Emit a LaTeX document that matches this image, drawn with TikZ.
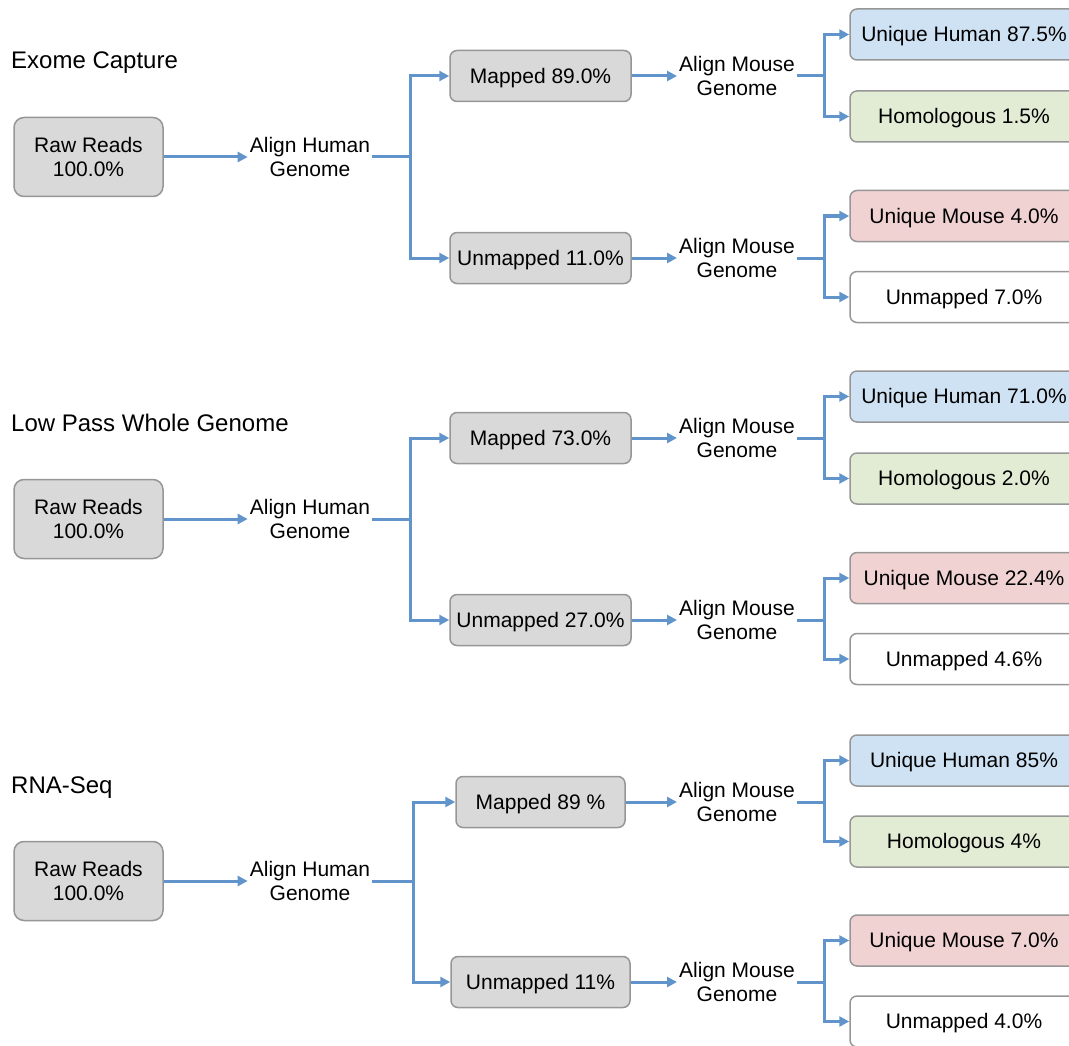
\documentclass[tikz,border=0pt]{standalone}
\usepackage{fontspec}
\setmainfont{Liberation Sans}
\usetikzlibrary{arrows.meta}
\definecolor{arrowblue}{RGB}{98,148,204}
\definecolor{boxline}{RGB}{150,150,150}
\definecolor{graybox}{RGB}{217,217,217}
\definecolor{bluebox}{RGB}{207,226,243}
\definecolor{greenbox}{RGB}{226,236,213}
\definecolor{redbox}{RGB}{241,210,211}
\tikzset{
  basebox/.style={draw=boxline, line width=1.5pt, align=center, inner sep=0pt,
    font=\fontsize{21}{24}\selectfont},
  rawbox/.style={basebox, fill=graybox, rounded corners=10pt, minimum width=149pt, minimum height=79pt},
  onelinebox/.style={basebox, text height=18.9pt, text depth=4.4pt},
  midbox/.style={onelinebox, fill=graybox, rounded corners=7pt, minimum width=181pt, minimum height=51pt},
  rbox/.style={onelinebox, rounded corners=7pt, minimum width=228pt, minimum height=51pt},
  steplabel/.style={align=center, inner sep=2pt, font=\fontsize{21}{24}\selectfont},
  sectitle/.style={anchor=base west, inner sep=0pt, font=\fontsize{24}{28}\selectfont},
  flow/.style={draw=arrowblue, line width=3pt, -{Triangle[length=10pt,width=10pt]}},
  flowplain/.style={draw=arrowblue, line width=3pt}
}
\begin{document}
\begin{tikzpicture}[x=1pt,y=-1pt]
\useasboundingbox (0,0) rectangle (1069,1046);
\clip (0,0) rectangle (1069,1046);

% ---------- Section 1 ----------
\node[sectitle] (ta) at (11,69) {Exome Capture};
\node[rawbox] (rawa) at (88.5,157) {Raw Reads\\100.0\%};
\node[steplabel] (aha) at (310,157) {Align Human\\Genome};
\node[midbox] (mapa) at (540.5,76) {Mapped 89.0\%};
\node[midbox] (unma) at (540.5,258) {Unmapped 11.0\%};
\node[steplabel] (ama1) at (737,76) {Align Mouse\\Genome};
\node[steplabel] (ama2) at (737,258) {Align Mouse\\Genome};
\node[rbox, fill=bluebox] (uha) at (964,34.5) {Unique Human 87.5\%};
\node[rbox, fill=greenbox] (hoa) at (964,116.5) {Homologous 1.5\%};
\node[rbox, fill=redbox] (uma) at (964,216) {Unique Mouse 4.0\%};
\node[rbox, fill=white] (una) at (964,297) {Unmapped 7.0\%};
\coordinate (ja) at (410,157);
\coordinate (jma1) at (824,76);
\coordinate (jma2) at (824,258);
\draw[flow] (rawa.east) -- (aha.west);
\draw[flowplain] (aha.east) -- (ja);
\draw[flow] (ja) |- (mapa.west);
\draw[flow] (ja) |- (unma.west);
\draw[flow] (mapa.east) -- (ama1.west);
\draw[flow] (unma.east) -- (ama2.west);
\draw[flowplain] (ama1.east) -- (jma1);
\draw[flow] (jma1) |- (uha.west);
\draw[flow] (jma1) |- (hoa.west);
\draw[flowplain] (ama2.east) -- (jma2);
\draw[flow] (jma2) |- (uma.west);
\draw[flow] (jma2) |- (una.west);

% ---------- Section 2 ----------
\begin{scope}[shift={(0,362)}]
\node[sectitle] (tb) at (11,69) {Low Pass Whole Genome};
\node[rawbox] (rawb) at (88.5,157) {Raw Reads\\100.0\%};
\node[steplabel] (ahb) at (310,157) {Align Human\\Genome};
\node[midbox] (mapb) at (540.5,76) {Mapped 73.0\%};
\node[midbox] (unmb) at (540.5,258) {Unmapped 27.0\%};
\node[steplabel] (amb1) at (737,76) {Align Mouse\\Genome};
\node[steplabel] (amb2) at (737,258) {Align Mouse\\Genome};
\node[rbox, fill=bluebox] (uhb) at (964,34.5) {Unique Human 71.0\%};
\node[rbox, fill=greenbox] (hob) at (964,116.5) {Homologous 2.0\%};
\node[rbox, fill=redbox] (umb) at (964,216) {Unique Mouse 22.4\%};
\node[rbox, fill=white] (unb) at (964,297) {Unmapped 4.6\%};
\coordinate (jb) at (410,157);
\coordinate (jmb1) at (824,76);
\coordinate (jmb2) at (824,258);
\draw[flow] (rawb.east) -- (ahb.west);
\draw[flowplain] (ahb.east) -- (jb);
\draw[flow] (jb) |- (mapb.west);
\draw[flow] (jb) |- (unmb.west);
\draw[flow] (mapb.east) -- (amb1.west);
\draw[flow] (unmb.east) -- (amb2.west);
\draw[flowplain] (amb1.east) -- (jmb1);
\draw[flow] (jmb1) |- (uhb.west);
\draw[flow] (jmb1) |- (hob.west);
\draw[flowplain] (amb2.east) -- (jmb2);
\draw[flow] (jmb2) |- (umb.west);
\draw[flow] (jmb2) |- (unb.west);
\end{scope}

% ---------- Section 3 ----------
\begin{scope}[shift={(0,724)}]
\node[sectitle] (tc) at (11,69) {RNA-Seq};
\node[rawbox] (rawc) at (88.5,157) {Raw Reads\\100.0\%};
\node[steplabel] (ahc) at (310,157) {Align Human\\Genome};
\node[midbox, minimum width=169pt] (mapc) at (540.5,78) {Mapped 89 \%};
\node[midbox, minimum width=179pt] (unmc) at (540.5,258) {Unmapped 11\%};
\node[steplabel] (amc1) at (737,78) {Align Mouse\\Genome};
\node[steplabel] (amc2) at (737,258) {Align Mouse\\Genome};
\node[rbox, fill=bluebox] (uhc) at (964,36.5) {Unique Human 85\%};
\node[rbox, fill=greenbox] (hoc) at (964,117.5) {Homologous 4\%};
\node[rbox, fill=redbox] (umc) at (964,216.5) {Unique Mouse 7.0\%};
\node[rbox, fill=white] (unc) at (964,297.5) {Unmapped 4.0\%};
\coordinate (jc) at (413,157);
\coordinate (jmc1) at (824,78);
\coordinate (jmc2) at (824,258);
\draw[flow] (rawc.east) -- (ahc.west);
\draw[flowplain] (ahc.east) -- (jc);
\draw[flow] (jc) |- (mapc.west);
\draw[flow] (jc) |- (unmc.west);
\draw[flow] (mapc.east) -- (amc1.west);
\draw[flow] (unmc.east) -- (amc2.west);
\draw[flowplain] (amc1.east) -- (jmc1);
\draw[flow] (jmc1) |- (uhc.west);
\draw[flow] (jmc1) |- (hoc.west);
\draw[flowplain] (amc2.east) -- (jmc2);
\draw[flow] (jmc2) |- (umc.west);
\draw[flow] (jmc2) |- (unc.west);
\end{scope}
\end{tikzpicture}
\end{document}
